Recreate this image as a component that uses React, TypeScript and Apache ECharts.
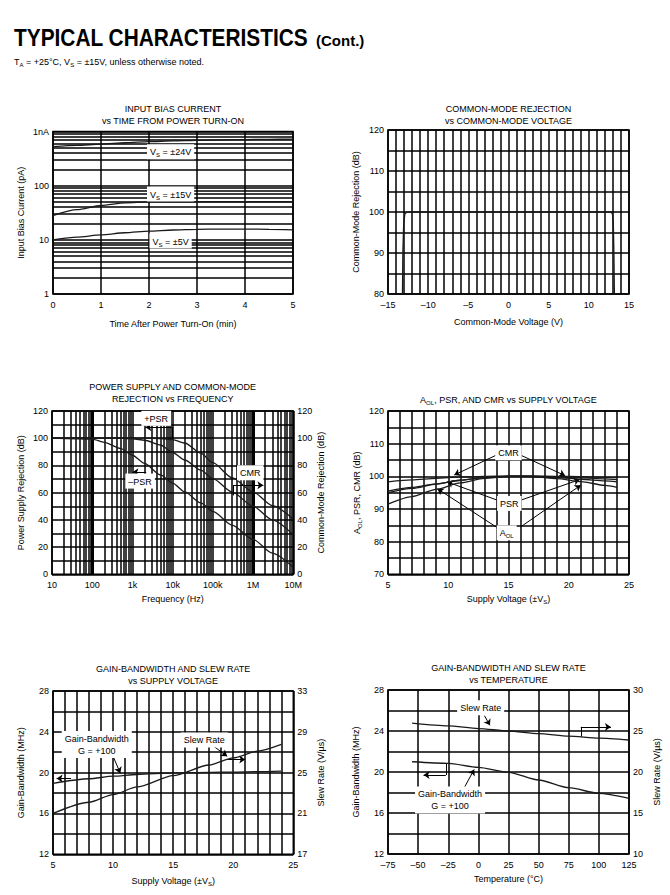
import React, { useEffect, useRef } from 'react';
import * as echarts from 'echarts';

const FONT = '"Liberation Sans", Arial, Helvetica, sans-serif';

// ---- Panel 1: Input bias current vs time from power turn-on
const p1Time = [0, 0.5, 1, 1.5, 2, 2.5, 3, 3.5, 4, 4.5, 5];
const p1Vs24 = [525, 555, 585, 620, 650, 670, 685, 700, 710, 718, 722];
const p1Vs15 = [28, 36, 43, 48, 50, 50.5, 50.5, 50.5, 50.5, 50.5, 50.5];
const p1Vs5 = [10, 11.2, 12.3, 13.5, 14.5, 15.2, 15.6, 15.8, 15.8, 15.6, 15.3];
const p1YTicks = ['1', '10', '100', '1nA'];

// ---- Panel 2: CMR vs common-mode voltage
const p2Vcm = [-13.2, -13.15, -13.05, -12.9, -12.6, 12.8, 12.95, 13.05, 13.12, 13.18];
const p2Cmr = [80, 90, 97, 99.6, 100, 100, 99.4, 97, 90, 80];

// ---- Panel 3: PSR and CMR vs frequency
const p3Freq = [10, 100, 200, 500, 1e3, 2e3, 5e3, 1e4, 2e4, 5e4, 1e5, 3e5, 1e6, 3e6, 1e7];
const p3PsrPlus = [100, 100, 100, 100, 100, 100, 99.8, 99, 96.5, 89, 82, 71, 60.5, 50.5, 40.5];
const p3Cmr = [100, 100, 100, 100, 99.6, 98.5, 95, 89.5, 84, 76.5, 70.3, 60.5, 50, 40, 29];
const p3PsrMinus = [100, 99.3, 97, 92.5, 87.5, 81.5, 73, 67, 60.5, 52.5, 46.3, 36.2, 25.6, 15.5, 5];
const p3XTicks = ['10', '100', '1k', '10k', '100k', '1M', '10M'];

// ---- Panel 4: AOL, PSR and CMR vs supply voltage
const p4Vs = [5, 7, 9, 11, 13, 15, 17, 19, 21, 23, 24];
const p4Cmr = [98.3, 98.9, 99.4, 99.8, 100.0, 100.1, 100.1, 100.0, 99.9, 99.7, 99.6];
const p4PsrA = [95.5, 96.6, 97.7, 98.8, 99.6, 100.0, 100.0, 99.8, 99.5, 99.2, 99.0];
const p4PsrB = [95.0, 96.3, 97.6, 98.8, 99.6, 100.0, 100.0, 99.6, 99.1, 98.6, 98.3];
const p4Aol = [91.5, 93.8, 96.0, 98.0, 99.4, 100.0, 99.9, 99.3, 98.4, 97.2, 96.6];

// ---- Panel 5: GBW and slew rate vs supply voltage
const p5Vs = [5, 8, 10, 12, 15, 18, 20, 22, 24];
const p5Gbw = [18.95, 19.4, 19.65, 19.82, 19.97, 20.03, 20.06, 20.1, 20.15];
const p5Slew = [21.0, 22.1, 22.85, 23.6, 24.7, 25.75, 26.45, 27.1, 27.76];

// ---- Panel 6: GBW and slew rate vs temperature
const p6Temp = [-55, -25, 0, 25, 50, 75, 100, 125];
const p6Gbw = [21.0, 20.85, 20.46, 19.97, 19.22, 18.47, 17.92, 17.43];
const p6Slew = [25.95, 25.62, 25.3, 25.0, 24.68, 24.38, 24.12, 23.9];

const GRIDS = [
  { left: 53, top: 131.5, width: 240, height: 162.5 },
  { left: 388, top: 130, width: 241, height: 164 },
  { left: 52, top: 411, width: 241.3, height: 163.3 },
  { left: 388, top: 411, width: 241, height: 163.3 },
  { left: 53, top: 691, width: 240.3, height: 163.3 },
  { left: 388, top: 690, width: 241, height: 164 },
];

const LINE = { color: '#000', width: 1.5, type: 'solid' };
const richEC = {
  n: { fontSize: 9, fontFamily: FONT, color: '#000', lineHeight: 12 },
  s: { fontSize: 6, fontFamily: FONT, color: '#000', lineHeight: 7, verticalAlign: 'bottom' },
};
const richZR = (fs = 9) => ({
  n: { fontSize: fs, fontFamily: FONT, fill: '#000', lineHeight: fs + 3 },
  s: { fontSize: Math.round(fs * 0.65), fontFamily: FONT, fill: '#000', lineHeight: Math.round(fs * 0.75), verticalAlign: 'bottom' },
});

const dash = (v: number) => (v < 0 ? '\u2013' + Math.abs(v) : String(v));

function valueAxis(o: any) {
  return {
    type: 'value',
    nameLocation: 'middle',
    nameRotate: o.isY ? 90 : 0,
    axisLine: { show: false },
    axisTick: { show: false },
    axisLabel: { color: '#000', fontSize: 9, fontFamily: FONT, margin: o.isY ? 4 : 6, formatter: o.formatter },
    splitLine: { show: o.split !== false, lineStyle: LINE },
    minorTick: { show: false, splitNumber: o.minor || 5 },
    minorSplitLine: { show: !!o.minor, lineStyle: LINE },
    nameTextStyle: { color: '#000', fontSize: 9, fontFamily: FONT, rich: richEC },
    gridIndex: o.gridIndex,
    min: o.min,
    max: o.max,
    interval: o.interval,
    name: o.name,
    nameGap: o.nameGap,
    position: o.position,
  };
}

function logAxis(o: any) {
  return {
    type: 'log',
    logBase: 10,
    nameLocation: 'middle',
    nameRotate: o.isY ? 90 : 0,
    axisLine: { show: false },
    axisTick: { show: false },
    axisLabel: { color: '#000', fontSize: 9, fontFamily: FONT, margin: o.isY ? 4 : 6, formatter: o.formatter },
    splitLine: { show: true, lineStyle: LINE },
    minorSplitLine: { show: false },
    nameTextStyle: { color: '#000', fontSize: 9, fontFamily: FONT, rich: richEC },
    gridIndex: o.gridIndex,
    min: o.min,
    max: o.max,
    name: o.name,
    nameGap: o.nameGap,
  };
}

const zip = (xs: number[], ys: number[]) => xs.map((x, i) => [x, ys[i]]);

function curve(name: string, xi: number, yi: number, xs: number[], ys: number[], extra: any = {}) {
  return {
    type: 'line',
    name,
    xAxisIndex: xi,
    yAxisIndex: yi,
    data: zip(xs, ys),
    showSymbol: false,
    symbol: 'none',
    smooth: 0.25,
    smoothMonotone: 'x',
    silent: true,
    lineStyle: { color: '#1a1a1a', width: 1.3 },
    z: 5,
    ...extra,
  };
}

const seg = (a: number[], b: number[], head = true) => [
  { coord: a, symbol: 'none' },
  { coord: b, symbol: head ? 'arrow' : 'none' },
];
const arrows = (data: any[]) => ({
  silent: true,
  symbol: ['none', 'arrow'],
  symbolSize: 6,
  label: { show: false },
  lineStyle: { color: '#000', width: 1, type: 'solid' },
  emphasis: { disabled: true },
  data,
});
const gridMarks = (axis: 'xAxis' | 'yAxis', vals: number[], thick: number[] = []) => ({
  silent: true,
  symbol: 'none',
  label: { show: false },
  lineStyle: LINE,
  emphasis: { disabled: true },
  data: vals.map((v) => ({ [axis]: v, lineStyle: { color: '#000', width: thick.includes(v) ? 3 : 1.5, type: 'solid' } })),
});

const minorsOf = (decades: number[]) => decades.flatMap((d) => [2, 3, 4, 5, 6, 7, 8, 9].map((m) => m * d));

function buildOption(): any {
  const decIdx = (v: number) => Math.round(Math.log10(v));
  const xAxis = [
    valueAxis({ gridIndex: 0, min: 0, max: 5, interval: 1, name: 'Time After Power Turn-On (min)', nameGap: 25 }),
    valueAxis({ gridIndex: 1, min: -15, max: 15, interval: 5, minor: 5, formatter: dash, name: 'Common-Mode Voltage (V)', nameGap: 23 }),
    logAxis({ gridIndex: 2, min: 10, max: 1e7, formatter: (v: number) => p3XTicks[decIdx(v) - 1], name: 'Frequency (Hz)', nameGap: 20 }),
    valueAxis({ gridIndex: 3, min: 5, max: 25, interval: 5, minor: 5, name: '{n|Supply Voltage (±V}{s|S}{n|)}', nameGap: 19 }),
    valueAxis({ gridIndex: 4, min: 5, max: 25, interval: 5, minor: 5, name: '{n|Supply Voltage (±V}{s|S}{n|)}', nameGap: 21 }),
    valueAxis({ gridIndex: 5, min: -75, max: 125, interval: 25, formatter: dash, name: 'Temperature (°C)', nameGap: 20 }),
  ];
  const yAxis = [
    logAxis({ gridIndex: 0, isY: true, min: 1, max: 1000, formatter: (v: number) => p1YTicks[decIdx(v)], name: 'Input Bias Current (pA)', nameGap: 28 }),
    valueAxis({ gridIndex: 1, isY: true, min: 80, max: 120, interval: 10, minor: 2, name: 'Common-Mode Rejection (dB)', nameGap: 28 }),
    valueAxis({ gridIndex: 2, isY: true, min: 0, max: 120, interval: 20, minor: 2, name: 'Power Supply Rejection (dB)', nameGap: 27 }),
    valueAxis({ gridIndex: 2, isY: true, min: 0, max: 120, interval: 20, split: false, position: 'right', name: 'Common-Mode Rejection (dB)', nameGap: 23 }),
    valueAxis({ gridIndex: 3, isY: true, min: 70, max: 120, interval: 10, minor: 2, name: '{n|A}{s|OL}{n|, PSR, CMR (dB)}', nameGap: 25 }),
    valueAxis({ gridIndex: 4, isY: true, min: 12, max: 28, interval: 4, minor: 2, name: 'Gain-Bandwidth (MHz)', nameGap: 28 }),
    valueAxis({ gridIndex: 4, isY: true, min: 17, max: 33, interval: 4, split: false, position: 'right', name: 'Slew Rate (V/µs)', nameGap: 23 }),
    valueAxis({ gridIndex: 5, isY: true, min: 12, max: 28, interval: 4, minor: 2, name: 'Gain-Bandwidth (MHz)', nameGap: 28 }),
    valueAxis({ gridIndex: 5, isY: true, min: 10, max: 30, interval: 5, split: false, position: 'right', name: 'Slew Rate (V/µs)', nameGap: 23 }),
  ];

  const series = [
    curve('VS = ±24V', 0, 0, p1Time, p1Vs24, { markLine: gridMarks('yAxis', minorsOf([1, 10, 100])) }),
    curve('VS = ±15V', 0, 0, p1Time, p1Vs15),
    curve('VS = ±5V', 0, 0, p1Time, p1Vs5),
    curve('CMR', 1, 1, p2Vcm, p2Cmr, { smooth: false }),
    curve('–PSR', 2, 2, p3Freq, p3PsrMinus, {
      markLine: gridMarks('xAxis', minorsOf([10, 100, 1e3, 1e4, 1e5, 1e6]).concat([100, 1e6]), [100, 1e6]),
    }),
    curve('+PSR', 2, 2, p3Freq, p3PsrPlus, {
      markLine: arrows([
        seg([9600, 99.3], [9600, 108], false),
        seg([9600, 108], [2100, 108]),
        seg([2200, 75], [1000, 75]),
        seg([316000, 58], [316000, 65.5], false),
        seg([316000, 65.5], [1.8e6, 65.5]),
      ]),
    }),
    curve('CMR (f)', 2, 2, p3Freq, p3Cmr),
    curve('CMR (Vs)', 3, 4, p4Vs, p4Cmr, {
      markLine: arrows([
        seg([14.0, 106.5], [10.5, 100.4]),
        seg([16.0, 106.5], [19.7, 100.2]),
        seg([14.0, 92.8], [9.9, 98.3]),
        seg([16.1, 92.8], [20.9, 99.0]),
        seg([14.1, 84.2], [9.1, 96.2]),
        seg([16.0, 84.5], [21.0, 97.3]),
      ]),
    }),
    curve('PSR A', 3, 4, p4Vs, p4PsrA),
    curve('PSR B', 3, 4, p4Vs, p4PsrB),
    curve('AOL', 3, 4, p4Vs, p4Aol),
    curve('Gain-Bandwidth (Vs)', 4, 5, p5Vs, p5Gbw, {
      markLine: arrows([
        seg([10.0, 21.6], [10.6, 19.95]),
        seg([6.5, 19.43], [5.3, 19.43]),
        seg([18.3, 22.65], [19.5, 21.6]),
        seg([19.5, 21.3], [21.0, 21.3]),
      ]),
    }),
    curve('Slew Rate (Vs)', 4, 6, p5Vs, p5Slew),
    curve('Gain-Bandwidth (T)', 5, 7, p6Temp, p6Gbw, {
      markLine: arrows([
        seg([5, 25.5], [9.6, 24.55]),
        seg([85, 23.45], [85, 24.4], false),
        seg([85, 24.4], [110, 24.4]),
        seg([-12.5, 18.3], [-3.5, 20.25]),
        seg([-27, 20.85], [-27, 19.7], false),
        seg([-27, 19.7], [-45.5, 19.7]),
      ]),
    }),
    curve('Slew Rate (T)', 5, 8, p6Temp, p6Slew),
  ];

  return {
    animation: false,
    backgroundColor: '#fff',
    textStyle: { fontFamily: FONT },
    grid: GRIDS.map((g) => ({ ...g, show: true, borderColor: '#000', borderWidth: 1.5, backgroundColor: 'transparent' })),
    xAxis,
    yAxis,
    series,
  };
}

function buildGraphics(chart: any): any[] {
  const out: any[] = [];
  const R9 = richZR(9);
  const txt = (x: number, y: number, text: string, extra: any = {}) => ({
    type: 'text',
    x,
    y,
    z: 60,
    silent: true,
    style: { text, rich: R9, fill: '#000', font: `9px ${FONT}`, align: 'center', verticalAlign: 'middle', ...extra },
  });
  const lbl = (si: number, x: number, y: number, text: string) => {
    const p = chart.convertToPixel({ seriesIndex: si }, [x, y]);
    return txt(p[0], p[1], text, { backgroundColor: '#fff', padding: [2, 3, 1, 3] });
  };

  // page header
  out.push({
    type: 'text', x: 14, y: 38, z: 60, silent: true, scaleX: 0.907,
    style: { text: 'TYPICAL CHARACTERISTICS', fill: '#000', font: `bold 23px ${FONT}`, align: 'left', verticalAlign: 'middle' },
  });
  out.push({
    type: 'text', x: 316, y: 40, z: 60, silent: true,
    style: { text: '(Cont.)', fill: '#000', font: `bold 15px ${FONT}`, align: 'left', verticalAlign: 'middle' },
  });
  out.push({
    type: 'text', x: 14, y: 62, z: 60, silent: true,
    style: {
      text: '{n|T}{s|A}{n| = +25°C, V}{s|S}{n| = ±15V, unless otherwise noted.}',
      rich: richZR(9), align: 'left', verticalAlign: 'middle',
    },
  });

  // panel titles
  const cx = (i: number) => GRIDS[i].left + GRIDS[i].width / 2;
  out.push(txt(cx(0), 115, '{n|INPUT BIAS CURRENT}\n{n|vs TIME FROM POWER TURN-ON}'));
  out.push(txt(cx(1), 115, '{n|COMMON-MODE REJECTION}\n{n|vs COMMON-MODE VOLTAGE}'));
  out.push(txt(cx(2), 393.3, '{n|POWER SUPPLY AND COMMON-MODE}\n{n|REJECTION vs FREQUENCY}'));
  out.push(txt(cx(3), 400, '{n|A}{s|OL}{n|, PSR, AND CMR vs SUPPLY VOLTAGE}'));
  out.push(txt(cx(4), 675, '{n|GAIN-BANDWIDTH AND SLEW RATE}\n{n|vs SUPPLY VOLTAGE}'));
  out.push(txt(cx(5), 674, '{n|GAIN-BANDWIDTH AND SLEW RATE}\n{n|vs TEMPERATURE}'));

  // in-plot labels
  out.push(lbl(0, 2.45, 424, '{n|V}{s|S}{n| = ±24V}'));
  out.push(lbl(0, 2.45, 70, '{n|V}{s|S}{n| = ±15V}'));
  out.push(lbl(0, 2.45, 9.5, '{n|V}{s|S}{n| = ±5V}'));

  out.push(lbl(4, 3900, 114.6, '{n|+PSR}'));
  out.push(lbl(4, 1550, 68.5, '{n|\u2013PSR}'));
  out.push(lbl(4, 850000, 74.6, '{n|CMR}'));

  out.push(lbl(7, 15, 107.2, '{n|CMR}'));
  out.push(lbl(7, 15.07, 91.7, '{n|PSR}'));
  out.push(lbl(7, 14.85, 82.7, '{n|A}{s|OL}'));

  out.push(lbl(11, 8.64, 22.75, '{n|Gain-Bandwidth}\n{n|G = +100}'));
  out.push(lbl(11, 17.58, 23.2, '{n|Slew Rate}'));

  out.push(lbl(13, 1.9, 26.27, '{n|Slew Rate}'));
  out.push(lbl(13, -23.5, 17.27, '{n|Gain-Bandwidth}\n{n|G = +100}'));
  return out;
}

export default function App() {
  const ref = useRef<HTMLDivElement>(null);
  useEffect(() => {
    document.body.style.margin = '0';
    const chart = echarts.init(ref.current as HTMLDivElement, null, { renderer: 'svg' });
    chart.setOption(buildOption());
    chart.setOption({ graphic: buildGraphics(chart) });
    return () => chart.dispose();
  }, []);
  return <div ref={ref} style={{ width: 670, height: 895 }} />;
}
